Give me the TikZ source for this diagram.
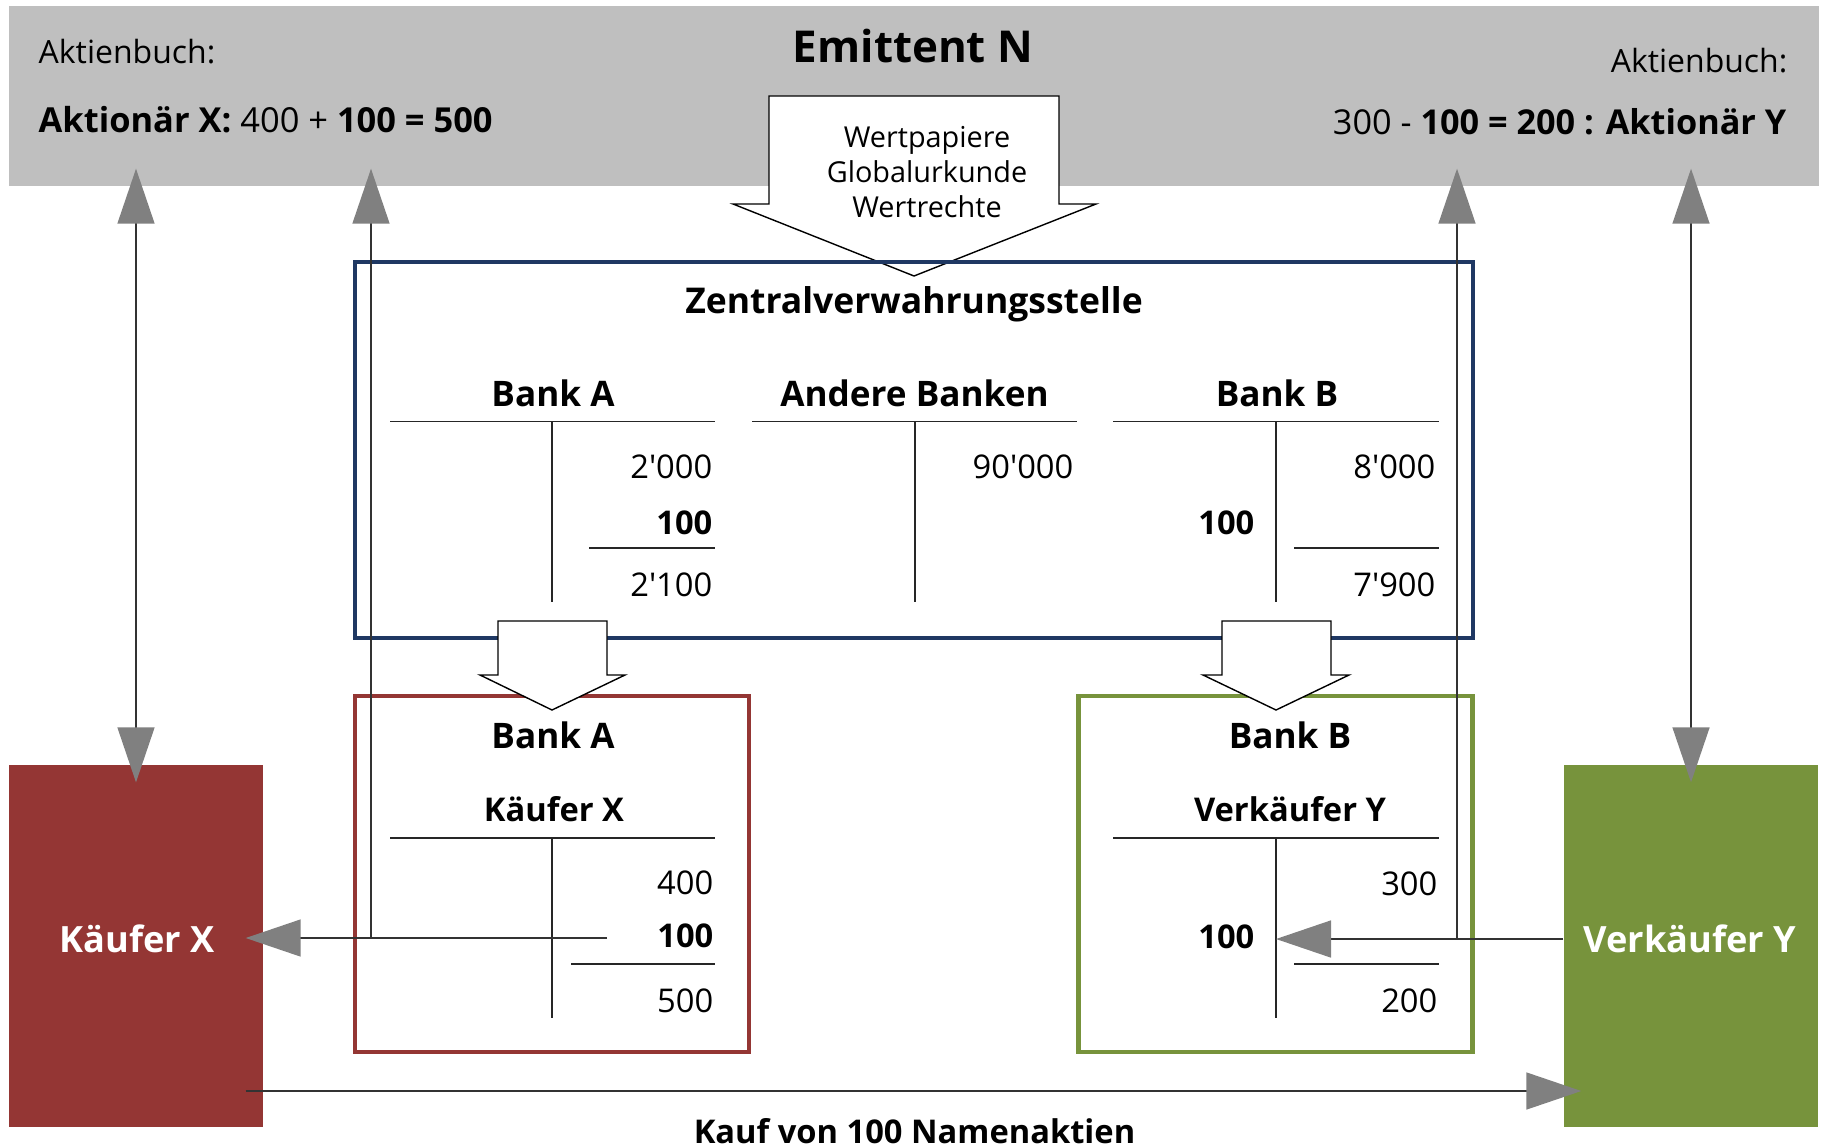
\documentclass[tikz,border=0pt]{standalone}
\usepackage{fontspec}
\setmainfont{Open Sans}
\usetikzlibrary{arrows.meta}

\definecolor{bandgray}{RGB}{191,191,191}
\definecolor{zvsblue}{RGB}{31,56,99}
\definecolor{bankred}{RGB}{148,54,52}
\definecolor{bankgreen}{RGB}{119,147,60}
\definecolor{tipgray}{RGB}{128,128,128}

\newcommand{\ap}{\textquotesingle}

\tikzset{
  >={Triangle[length=5.5mm,width=3.7mm,color=tipgray,fill=tipgray]},
  tline/.style={line width=0.4pt, black!85},
  amount/.style={anchor=base east, inner sep=0pt, font=\fontsize{9.3}{11}\selectfont},
  amountb/.style={amount, font=\bfseries\fontsize{9.3}{11}\selectfont},
  acctitle/.style={anchor=base, inner sep=0pt, font=\bfseries\fontsize{10}{12}\selectfont},
  owner/.style={anchor=base, inner sep=0pt, font=\bfseries\fontsize{9.3}{11}\selectfont},
  bankbox/.style={draw=#1, line width=1.2pt, minimum width=39.4mm, minimum height=35.6mm, inner sep=0pt},
  client/.style={fill=#1, minimum width=25.4mm, minimum height=36.2mm, inner sep=0pt},
  clientlab/.style={anchor=base, inner sep=0pt, text=white, font=\bfseries\fontsize{10.3}{12}\selectfont},
  blockarrow/.style={draw=black, fill=white, line width=0.4pt},
  toarrow/.style={draw=black!80, line width=0.45pt, shorten >=-1.8mm, ->},
  biarrow/.style={toarrow, shorten <=-1.8mm, <->}
}

\begin{document}
\begin{tikzpicture}[x=0.1mm, y=0.1mm]
\useasboundingbox (0,0) rectangle (1821,1147);

% issuer and the two share registers
\node[fill=bandgray, minimum width=181mm, minimum height=18mm, inner sep=0pt] (band) at (914,1051) {};
\node[anchor=base west, inner sep=0pt, font=\fontsize{9.1}{11}\selectfont] (buchX) at (38,1083) {Aktienbuch:};
\node[anchor=base west, inner sep=0pt, font=\fontsize{9.8}{12}\selectfont] (aktX) at (38,1014) {\textbf{Aktionär X:} 400 + \textbf{100 = 500}};
\node[anchor=base, inner sep=0pt, font=\bfseries\fontsize{12.5}{15}\selectfont] (emittent) at (913,1084) {Emittent N};
\node[anchor=base east, inner sep=0pt, font=\fontsize{9.1}{11}\selectfont] (buchY) at (1788,1074) {Aktienbuch:};
\node[anchor=base east, inner sep=0pt, font=\fontsize{9.75}{12}\selectfont] (aktY) at (1787,1012) {300 - \textbf{100 = 200 : Aktionär Y}};

% securities handed to the depository
\draw[blockarrow] (769,1051) -- (1059,1051) -- (1059,943) -- (1096,943) -- (914,871) -- (733,943) -- (769,943) -- cycle;
\node[align=center, inner sep=0pt, font=\fontsize{8.2}{9.9}\selectfont] (papiere) at (927,975) {Wertpapiere\\Globalurkunde\\Wertrechte};

% central depository
\node[draw=zvsblue, line width=1.4pt, minimum width=111.8mm, minimum height=37.6mm, inner sep=0pt] (zvs) at (914,697) {};
\node[acctitle, font=\bfseries\fontsize{10.1}{12}\selectfont] (zvstitle) at (914,833) {Zentralverwahrungsstelle};

\node[acctitle] (titA) at (553,741) {Bank A};
\draw[tline] (390,725.5) -- (715,725.5);
\draw[tline] (552,725.5) -- (552,545);
\node[amount] (zA1) at (713,669) {2\ap000};
\node[amountb] (zA2) at (713,613) {100};
\draw[tline] (589,599) -- (715,599);
\node[amount] (zA3) at (713,550.5) {2\ap100};

\node[acctitle] (titO) at (914.5,741) {Andere Banken};
\draw[tline] (752,725.5) -- (1077,725.5);
\draw[tline] (915,725.5) -- (915,545);
\node[amount] (zO1) at (1074,669) {90\ap000};

\node[acctitle] (titB) at (1277,741) {Bank B};
\draw[tline] (1113,725.5) -- (1439,725.5);
\draw[tline] (1276,725.5) -- (1276,545);
\node[amount] (zB1) at (1436,669) {8\ap000};
\node[amountb] (zB2) at (1255,613) {100};
\draw[tline] (1294,599) -- (1439,599);
\node[amount] (zB3) at (1436,550.5) {7\ap900};

% custody accounts at the banks
\node[bankbox=bankred] (bankA) at (552,273) {};
\node[acctitle] (bA) at (553,399) {Bank A};
\node[owner] (oA) at (554,326) {Käufer X};
\draw[tline] (390,309) -- (715,309);
\draw[tline] (552,309) -- (552,129);
\coordinate (rvert) at (552,309);
\node[amount] (kA1) at (714,253) {400};
\node[amountb] (kA2) at (714,200) {100};
\draw[tline] (571,183) -- (715,183);
\node[amount] (kA3) at (714,135) {500};

\node[bankbox=bankgreen] (bankB) at (1275.5,273) {};
\node[acctitle] (bB) at (1290,399) {Bank B};
\node[owner] (oB) at (1290,326) {Verkäufer Y};
\draw[tline] (1113,309) -- (1439,309);
\draw[tline] (1276,309) -- (1276,129);
\coordinate (gvert) at (1276,309);
\node[amount] (kB1) at (1438,252) {300};
\node[amountb] (kB2) at (1255,199) {100};
\draw[tline] (1294,183) -- (1439,183);
\node[amount] (kB3) at (1438,135) {200};

% transfer from the depository to the banks
\draw[blockarrow] (498,526) -- (607,526) -- (607,472) -- (625,472) -- (552,437) -- (480,472) -- (498,472) -- cycle;
\draw[blockarrow] (1222,526) -- (1331,526) -- (1331,472) -- (1349,472) -- (1276,437) -- (1203,472) -- (1222,472) -- cycle;

% buyer and seller
\node[client=bankred] (kaeufer) at (136,201) {};
\node[clientlab] (kaeuferlab) at (137,195) {Käufer X};
\node[client=bankgreen] (verkaeufer) at (1691,201) {};
\node[clientlab] (verkaeuferlab) at (1690,195) {Verkäufer Y};

% flows
\coordinate (kxup) at (371,209);
\coordinate (kxfrom) at (607,209);
\coordinate (vyup) at (1457,208);
\coordinate (kaufline) at (914,56);

\draw[biarrow] (kaeufer.north) -- (kaeufer.north |- band.south);
\draw[toarrow] (kxfrom) -- (kxfrom -| kaeufer.east);
\draw[toarrow] (kxup) -- (kxup |- band.south);

\draw[biarrow] (verkaeufer.north) -- (verkaeufer.north |- band.south);
\draw[toarrow, shorten >=0pt] (verkaeufer.west |- vyup) -- (vyup -| gvert);
\draw[toarrow] (vyup) -- (vyup |- band.south);

\draw[toarrow, shorten <=-1.8mm] (kaufline -| kaeufer.east) -- (kaufline -| verkaeufer.west);
\node[anchor=base, inner sep=0pt, font=\bfseries\fontsize{9.3}{11}\selectfont] (kauf) at (914.5,4) {Kauf von 100 Namenaktien};
\end{tikzpicture}
\end{document}
